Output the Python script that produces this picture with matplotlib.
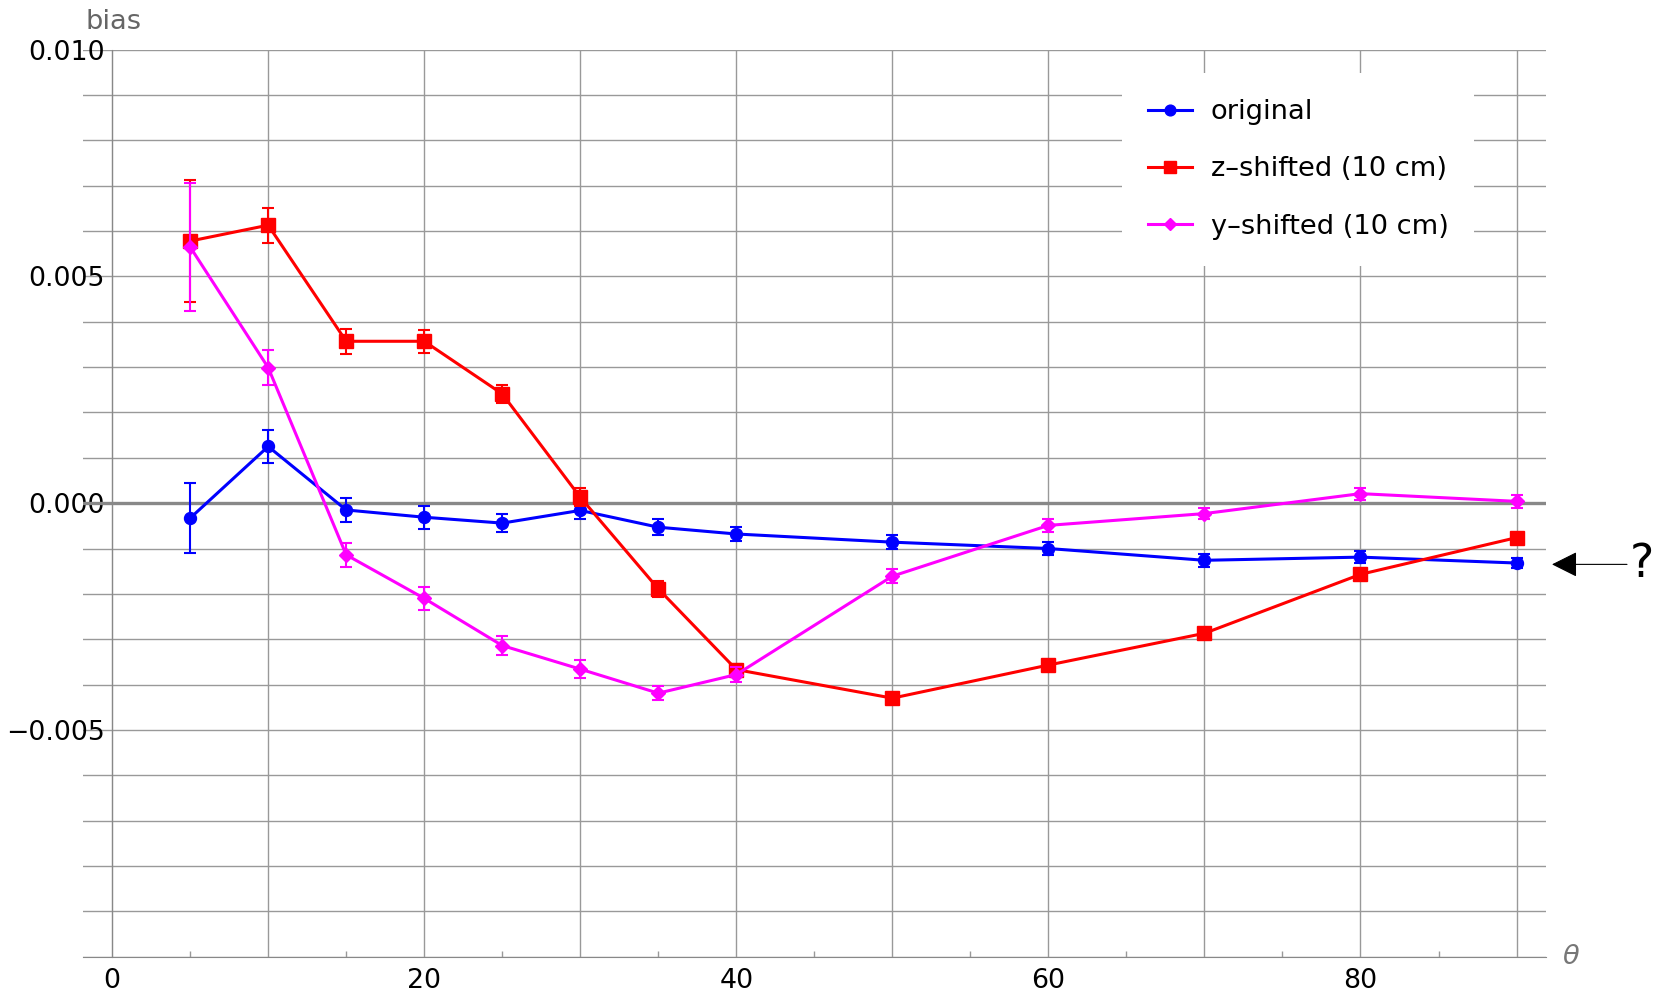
import numpy as np
import matplotlib.pyplot as plt

theta = [5, 10, 15, 20, 25, 30, 35, 40, 50, 60, 70, 80, 90]

orig_bias = [-0.00033, 0.00125, -0.00015, -0.00031, -0.00044, -0.00016, -0.00053,
             -0.00068, -0.00086, -0.00100, -0.00126, -0.00119, -0.00132]
orig_err = [0.00077, 0.00036, 0.00027, 0.00025, 0.00019, 0.00018, 0.00017,
            0.00016, 0.00015, 0.00015, 0.00014, 0.00013, 0.00011]

z_bias = [0.00578, 0.00613, 0.00357, 0.00357, 0.00241, 0.00013, -0.00189,
          -0.00367, -0.00430, -0.00357, -0.00287, -0.00157, -0.00076]
z_err = [0.00134, 0.00039, 0.00028, 0.00025, 0.00020, 0.00020, 0.00018,
         0.00012, 0.00010, 0.00010, 0.00010, 0.00010, 0.00010]

y_bias = [0.00565, 0.00299, -0.00114, -0.00210, -0.00314, -0.00366, -0.00419,
          -0.00378, -0.00161, -0.00049, -0.00023, 0.00021, 0.00004]
y_err = [0.00141, 0.00038, 0.00026, 0.00026, 0.00020, 0.00020, 0.00016,
         0.00016, 0.00016, 0.00015, 0.00013, 0.00013, 0.00015]

series = [
    ('original', orig_bias, orig_err, '#0000ff', 'o', 8.6),
    ('z\u2013shifted (10 cm)', z_bias, z_err, '#ff0000', 's', 9.4),
    ('y\u2013shifted (10 cm)', y_bias, y_err, '#ff00ff', 'D', 6.8),
]

x_major = list(range(0, 91, 10))
x_minor = list(range(5, 90, 10))
x_labelled = [0, 20, 40, 60, 80]
y_major = [v / 1000 for v in range(-10, 11)]
y_labels = {10: '0.010', 5: '0.005', 0: '0.000', -5: '\u22120.005'}

grid_col = '#999999'

fig = plt.figure(figsize=(16.59, 9.94), dpi=100)
ax = fig.add_axes([0.050, 0.0376, 0.882, 0.9124])

for i, (name, vals, err, col, mk, ms) in enumerate(series):
    ax.errorbar(theta, vals, yerr=err, fmt='none', ecolor=col, elinewidth=1.5,
                capsize=4.6, capthick=1.5, zorder=3 + i)
    ax.plot(theta, vals, color=col, marker=mk, ms=ms, lw=2.2, label=name,
            zorder=3 + i)

ax.axhline(0, color='#888888', lw=2.4, zorder=2)

ax.set_xlim(-1.87, 91.9)
ax.set_ylim(-0.010, 0.010)

ax.set_xticks(x_major)
ax.set_xticklabels([str(v) if v in x_labelled else '' for v in x_major])
ax.set_xticks(x_minor, minor=True)
ax.set_yticks(y_major)
ax.set_yticklabels([y_labels.get(round(v * 1000), '') for v in y_major])

ax.tick_params(axis='x', which='major', direction='in', length=0, pad=8,
               labelsize=19.3)
ax.tick_params(axis='x', which='minor', direction='in', length=4,
               color=grid_col, width=1)
ax.tick_params(axis='y', length=0, pad=5, labelsize=19.3)

ax.grid(True, which='major', color=grid_col, lw=1.0, zorder=1)
ax.set_axisbelow(True)

for side in ['top', 'right']:
    ax.spines[side].set_visible(False)
ax.spines['left'].set_position(('data', 0))
ax.spines['left'].set_color('#888888')
ax.spines['bottom'].set_color('#888888')

leg = ax.legend(loc='upper right', bbox_to_anchor=(0.951, 0.974),
                borderaxespad=0, fontsize=19.6, frameon=True, fancybox=False,
                edgecolor='none', facecolor='white', framealpha=1,
                borderpad=0.95, labelspacing=1.15, handlelength=1.6,
                handletextpad=0.7, markerscale=0.9)
leg.set_zorder(10)

fig.text(85 / 1659, 1 - 22 / 994, 'bias', color='#666666', fontsize=19.6,
         ha='left', va='center')
fig.text(1571 / 1659, 1 - 957 / 994, '\u03b8', color='#777777', fontsize=19.6,
         style='italic', ha='center', va='center')

# pointer to the right-hand end of the original curve
arrow_y = -0.00135
ax.annotate('', xy=(1552 / 1659, arrow_y), xytext=(1627 / 1659, arrow_y),
            xycoords=('figure fraction', 'data'),
            textcoords=('figure fraction', 'data'),
            arrowprops=dict(arrowstyle='-|>,head_length=0.8,head_width=0.4',
                            color='black', lw=0.8, mutation_scale=20,
                            shrinkA=0, shrinkB=0),
            annotation_clip=False)
ax.annotate('?', xy=(1642 / 1659, arrow_y), xycoords=('figure fraction', 'data'),
            ha='center', va='center', fontsize=33, annotation_clip=False)

fig.savefig('out.png', dpi=100)
